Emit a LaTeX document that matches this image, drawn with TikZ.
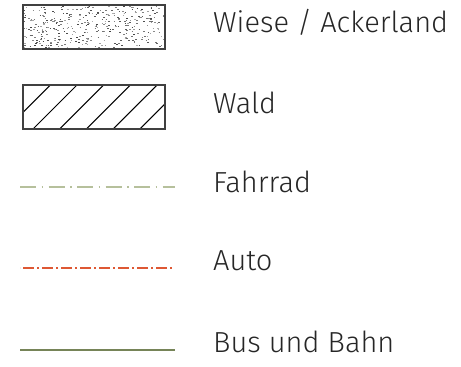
\documentclass[tikz,border=0pt]{standalone}
\usepackage{fontspec}
\setmainfont{Fira Sans}[UprightFont=* Light]
\usetikzlibrary{positioning}
\definecolor{bikegreen}{RGB}{182,192,156}
\definecolor{carred}{RGB}{222,88,52}
\definecolor{busgreen}{RGB}{118,132,88}

\begin{document}
\begin{tikzpicture}[
    x=1pt, y=-1pt,
    legendbox/.style={draw=black!75, line width=1.3pt},
    legendtext/.style={anchor=base west, inner sep=0pt, font=\fontsize{29}{31}\selectfont\color{black!85}},
    bikeline/.style={line width=2.4pt, draw=bikegreen, dash pattern=on 16pt off 5.5pt on 1.5pt off 5.5pt},
    carline/.style={line width=2.4pt, draw=carred, dash pattern=on 11pt off 3pt on 2pt off 3pt, dash phase=-3pt},
    busline/.style={line width=2.4pt, draw=busgreen}
]
    \useasboundingbox (0,0) rectangle (461,367);

    % Wiese / Ackerland: speckled box
    \begin{scope}
        \clip (23,5) rectangle (165,49);
        \pgfmathsetseed{7}
        \foreach \i in {1,...,400} {
            \pgfmathsetmacro{\px}{23+142*rnd}
            \pgfmathsetmacro{\py}{5+44*rnd}
            \pgfmathsetmacro{\pg}{30+45*rnd}
            \draw[line width=0.9pt, draw=black!\pg] (\px,\py) -- ++(1.6,0);
        }
    \end{scope}
    \draw[legendbox] (23,5) rectangle (165,49);
    \node[legendtext] (wiese) at (213,32) {Wiese / Ackerland};

    % Wald: hatched box
    \begin{scope}
        \clip (23,85) rectangle (165,129);
        \foreach \k in {0,...,5} {
            \draw[line width=1pt, draw=black] ({6.3+26.7*\k},129) -- ++(50,-50);
        }
    \end{scope}
    \draw[legendbox] (23,85) rectangle (165,129);
    \node[legendtext] (wald) at (213,113) {Wald};

    % Fahrrad
    \coordinate (bikeA) at (20,187);
    \coordinate (bikeB) at (175,187);
    \draw[bikeline] (bikeA) -- (bikeB);
    \node[legendtext] (fahrrad) at (213,192) {Fahrrad};

    % Auto
    \coordinate (carA) at (20,268);
    \coordinate (carB) at (173,268);
    \draw[carline] (carA) -- (carB);
    \node[legendtext] (auto) at (213,270) {Auto};

    % Bus und Bahn
    \coordinate (busA) at (20,350);
    \coordinate (busB) at (175,350);
    \draw[busline] (busA) -- (busB);
    \node[legendtext] (bus) at (213,352) {Bus und Bahn};

\end{tikzpicture}
\end{document}
